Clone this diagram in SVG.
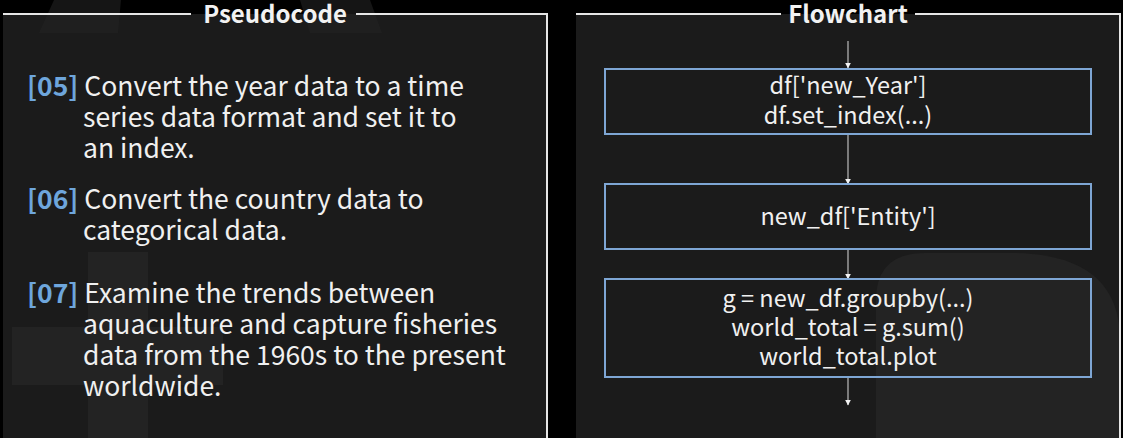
<svg xmlns="http://www.w3.org/2000/svg" width="1123" height="438" viewBox="0 0 1123 438">
<style>
.panel{fill:#1b1b1b}
.frame{fill:none;stroke:#e6e6e6;stroke-width:2}
.ghost{fill:#232323}
.title{font-family:"Noto Sans CJK KR","Noto Sans",sans-serif;font-weight:bold;font-size:24px;fill:#f2f2f2;text-anchor:middle}
.txt{font-family:"Noto Sans CJK KR","Noto Sans",sans-serif;font-size:26.5px;fill:#f0f0f0}
.num{fill:#6ea6dc;font-weight:bold}
.box{fill:none;stroke:#7ea6d4;stroke-width:2}
.code{font-family:"Noto Sans CJK KR","Noto Sans",sans-serif;font-size:23.5px;fill:#f0f0f0;text-anchor:middle}
.conn{stroke:#bdbdbd;stroke-width:1.2;fill:none;marker-end:url(#ah)}
</style>
<defs>
<marker id="ah" viewBox="0 0 10 10" refX="9" refY="5" markerWidth="6" markerHeight="6" markerUnits="userSpaceOnUse" orient="auto">
<path d="M0,0 L10,5 L0,10 z" fill="#f2f2f2"/>
</marker>
</defs>
<rect width="1123" height="438" fill="#000"/>
<g id="pseudocode-panel">
<rect class="panel" x="3" y="14" width="544" height="424"/>
<polygon class="ghost" points="54,0 121,0 118,33 39,33" opacity="0.6"/>
<polygon class="ghost" points="300,0 370,0 382,33 310,33" opacity="0.6"/>
<rect class="ghost" x="88" y="252" width="60" height="186"/>
<rect class="ghost" x="12" y="327" width="211" height="58"/>
<path class="frame" d="M3,14 H191 M356,14 H547 V438"/>
<text class="title" x="275" y="23">Pseudocode</text>
</g>
<g id="flowchart-panel">
<rect class="panel" x="576" y="14" width="544" height="424"/>
<path class="ghost" d="M876,438 V300 Q876,253 925,253 H1010 Q1120,253 1120,340 V438 Z"/>
<path class="frame" d="M576,14 H781 M915,14 H1120 V438"/>
<text class="title" x="848" y="23">Flowchart</text>
</g>
<g id="step-05">
<text class="txt" x="27" y="96"><tspan class="num">[05]</tspan> Convert the year data to a time</text>
<text class="txt" x="83" y="127">series data format and set it to</text>
<text class="txt" x="83" y="158">an index.</text>
</g>
<g id="step-06">
<text class="txt" x="27" y="209"><tspan class="num">[06]</tspan> Convert the country data to</text>
<text class="txt" x="83" y="240">categorical data.</text>
</g>
<g id="step-07">
<text class="txt" x="27" y="303"><tspan class="num">[07]</tspan> Examine the trends between</text>
<text class="txt" x="83" y="334">aquaculture and capture fisheries</text>
<text class="txt" x="83" y="365">data from the 1960s to the present</text>
<text class="txt" x="83" y="396">worldwide.</text>
</g>
<g id="connectors">
<line class="conn" x1="848" y1="41" x2="848" y2="68"/>
<line class="conn" x1="848" y1="135" x2="848" y2="184"/>
<line class="conn" x1="848" y1="250" x2="848" y2="279"/>
<line class="conn" x1="848" y1="378" x2="848" y2="405"/>
</g>
<g id="node-year">
<rect class="box" x="605" y="69" width="486" height="65"/>
<text class="code" x="848" y="94">df['new_Year']</text>
<text class="code" x="848" y="124">df.set_index(...)</text>
</g>
<g id="node-entity">
<rect class="box" x="605" y="184" width="486" height="65"/>
<text class="code" x="848" y="225">new_df['Entity']</text>
</g>
<g id="node-groupby">
<rect class="box" x="605" y="279" width="486" height="98"/>
<text class="code" x="848" y="307">g = new_df.groupby(...)</text>
<text class="code" x="848" y="336">world_total = g.sum()</text>
<text class="code" x="848" y="365">world_total.plot</text>
</g>
</svg>
